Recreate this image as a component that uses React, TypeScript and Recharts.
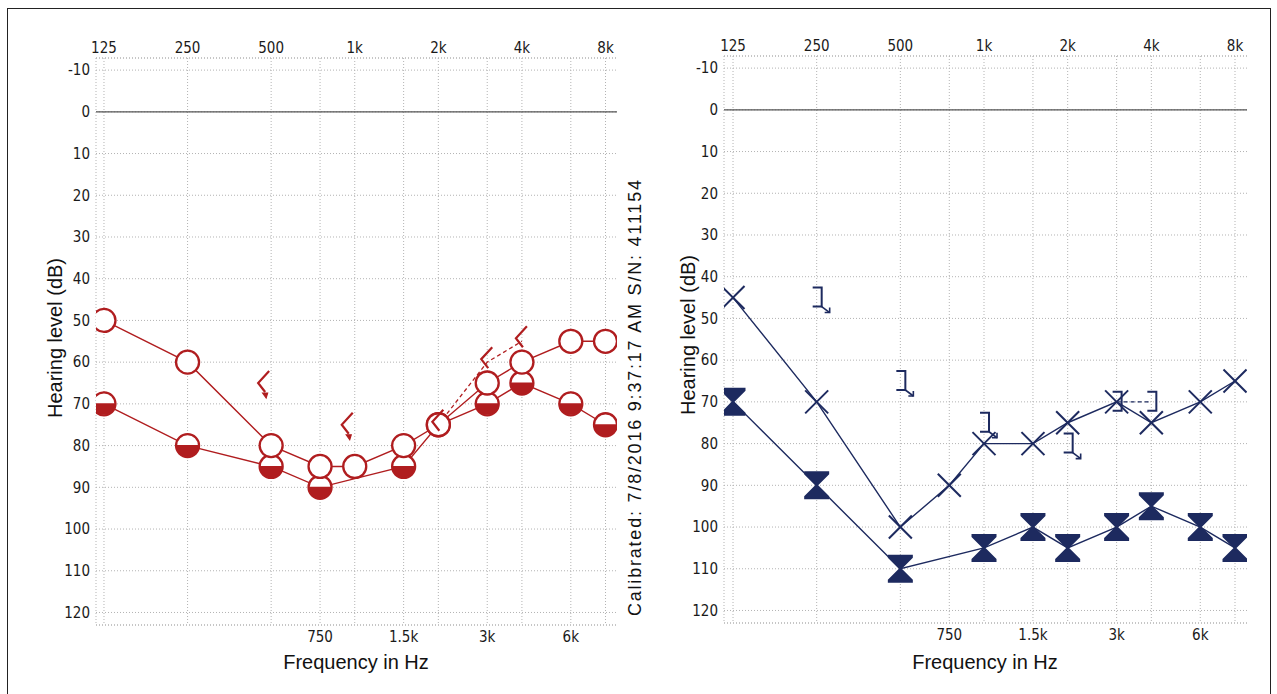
import React from 'react';
import { LineChart, Line, XAxis, YAxis, CartesianGrid, ReferenceLine } from 'recharts';

const RED = '#b01d1f';
const NAVY = '#1d2a5f';
const GRID = '#b3b3b3';

const TOP_FREQS = [125, 250, 500, 1000, 2000, 4000, 8000];
const BOTTOM_FREQS = [750, 1500, 3000, 6000];
const DB_TICKS = [-10, 0, 10, 20, 30, 40, 50, 60, 70, 80, 90, 100, 110, 120];

const AC_FREQS = [125, 250, 500, 750, 1000, 1500, 2000, 3000, 4000, 6000, 8000];

// Right ear (red)
const RIGHT_AC = [50, 60, 80, 85, 85, 80, 75, 65, 60, 55, 55];
const RIGHT_AC_MASKED = [70, 80, 85, 90, null, 85, 75, 70, 65, 70, 75];
const RIGHT_BC_FREQS = [500, 1000, 2000, 3000, 4000];
const RIGHT_BC = [65, 75, 75, 60, 55];
const RIGHT_BC_NR = [true, true, false, false, false];

// Left ear (blue)
const LEFT_AC = [45, 70, 100, 90, 80, 80, 75, 70, 75, 70, 65];
const LEFT_AC_MASKED = [70, 90, 110, null, 105, 100, 105, 100, 95, 100, 105];
const LEFT_BC_FREQS = [250, 500, 1000, 2000, 3000, 4000];
const LEFT_BC = [45, 65, 75, 80, 70, 70];
const LEFT_BC_NR = [true, true, true, true, false, false];

const GRID_FREQS = [...TOP_FREQS, ...BOTTOM_FREQS];

const toRows = (freqs: number[], vals: (number | null)[]) =>
  freqs.map((f, i) => ({ f, v: vals[i] }));
const toBcRows = (freqs: number[], vals: number[], nr: boolean[]) =>
  freqs.map((f, i) => ({ f, v: vals[i], nr: nr[i] }));
const toBcLine = (freqs: number[], vals: number[], nr: boolean[]) =>
  freqs.map((f, i) => ({ f, v: nr[i] ? null : vals[i] }));

const fmt = (f: number) => (f >= 1000 ? `${f / 1000}k` : `${f}`);

const TICK_FONT = "'Liberation Sans Narrow', 'DejaVu Sans Condensed', 'Liberation Sans', sans-serif";
const TITLE_FONT = "'Liberation Sans', Arial, sans-serif";

const empty = (p: any) => <g key={`e${p.index}`} />;

const OpenCircle = (p: any) => {
  if (p.cy == null || p.cx == null) return empty(p);
  return <circle key={`oc${p.index}`} cx={p.cx} cy={p.cy} r={11.5} fill="#fff" stroke={RED} strokeWidth={2.3} />;
};

const HalfCircle = (p: any) => {
  if (p.cy == null || p.cx == null) return empty(p);
  const r = 11.5;
  const { cx, cy } = p;
  return (
    <g key={`hc${p.index}`}>
      <circle cx={cx} cy={cy} r={r} fill="#fff" />
      <path d={`M${cx - r},${cy - 0.5} A${r},${r} 0 0 0 ${cx + r},${cy - 0.5} Z`} fill={RED} />
      <circle cx={cx} cy={cy} r={r} fill="none" stroke={RED} strokeWidth={2.3} />
    </g>
  );
};

const BcRight = (p: any) => {
  if (p.cy == null || p.cx == null) return empty(p);
  const { cx, cy } = p;
  const nr = p.payload && p.payload.nr;
  const dx = nr ? -13 : -6;
  const vx = cx + dx;
  const vy = nr ? cy : cy - 3;
  const tx = vx + 11, ty = vy - 12;
  const bx = vx + 7, by = vy + 9;
  return (
    <g key={`bcr${p.index}`} stroke={RED} strokeWidth={2.2} fill="none">
      <path d={`M${tx},${ty} L${vx},${vy} L${bx},${by}`} />
      {nr ? <path d={`M${bx - 2.5},${by + 1} L${bx + 2.5},${by + 1} L${bx + 1},${by + 6} Z`} fill={RED} strokeWidth={1.2} /> : null}
    </g>
  );
};

const XMark = (p: any) => {
  if (p.cy == null || p.cx == null) return empty(p);
  const { cx, cy } = p;
  const s = 11.5;
  return (
    <g key={`x${p.index}`} stroke={NAVY} strokeWidth={2}>
      <line x1={cx - s} y1={cy - s} x2={cx + s} y2={cy + s} />
      <line x1={cx - s} y1={cy + s} x2={cx + s} y2={cy - s} />
    </g>
  );
};

const Hourglass = (p: any) => {
  if (p.cy == null || p.cx == null) return empty(p);
  const { cx, cy } = p;
  const w = 12.5, h = 14;
  const d = `M${cx - w},${cy - h} H${cx + w} V${cy - h + 3} L${cx + 1.5},${cy} L${cx + w},${cy + h - 3} V${cy + h} H${cx - w} V${cy + h - 3} L${cx - 1.5},${cy} L${cx - w},${cy - h + 3} Z`;
  return <path key={`hg${p.index}`} d={d} fill={NAVY} />;
};

const BcLeft = (p: any) => {
  if (p.cy == null || p.cx == null) return empty(p);
  const { cx, cy } = p;
  const nr = p.payload && p.payload.nr;
  const l = cx - 4, r = cx + 5, t = cy - 10, b = cy + 9;
  return (
    <g key={`bcl${p.index}`} stroke={NAVY} strokeWidth={2} fill="none">
      <path d={`M${l},${t} H${r} V${b} H${l}`} />
      {nr ? (
        <g>
          <path d={`M${r},${b} L${r + 8},${b + 6}`} strokeWidth={1.6} />
          <path d={`M${r + 8},${b + 1} V${b + 6} H${r + 3}`} strokeWidth={1.6} />
        </g>
      ) : null}
    </g>
  );
};

type ChartCfg = {
  width: number;
  margin: { top: number; right: number; bottom: number; left: number };
  xDomain: [number, number];
  children: React.ReactNode;
};

const Y_DOMAIN: [number, number] = [-12.9, 123];

function Audiogram({ width, margin, xDomain, children }: ChartCfg) {
  const tick = { fontSize: 15, fill: '#1a1a1a', fontFamily: TICK_FONT };
  return (
    <LineChart width={width} height={694} margin={margin}>
      <CartesianGrid vertical={false} yAxisId="y" xAxisId="top" stroke={GRID} strokeDasharray="1 2" />
      {GRID_FREQS.map((f) => (
        <ReferenceLine key={`g${f}`} x={f} xAxisId="top" yAxisId="y" stroke={GRID} strokeDasharray="1 2" ifOverflow="hidden" />
      ))}
      <ReferenceLine y={0} xAxisId="top" yAxisId="y" stroke="#555" strokeWidth={1.3} />
      <XAxis
        xAxisId="top"
        dataKey="f"
        type="number"
        scale="log"
        domain={xDomain}
        allowDataOverflow
        orientation="top"
        ticks={TOP_FREQS}
        interval={0}
        tickFormatter={fmt}
        tickLine={false}
        tickSize={0}
        tickMargin={5}
        height={20}
        axisLine={{ stroke: GRID, strokeDasharray: '1 2' }}
        tick={tick}
      />
      <XAxis
        xAxisId="bottom"
        dataKey="f"
        type="number"
        scale="log"
        domain={xDomain}
        allowDataOverflow
        orientation="bottom"
        ticks={BOTTOM_FREQS}
        interval={0}
        tickFormatter={fmt}
        tickLine={false}
        tickSize={0}
        tickMargin={6}
        height={20}
        axisLine={{ stroke: GRID, strokeDasharray: '1 2' }}
        tick={tick}
      />
      <YAxis
        yAxisId="y"
        type="number"
        domain={Y_DOMAIN}
        allowDataOverflow
        reversed
        ticks={DB_TICKS}
        interval={0}
        tickLine={false}
        tickSize={0}
        tickMargin={6}
        width={50}
        axisLine={{ stroke: GRID, strokeDasharray: '1 2' }}
        tick={tick}
      />
      <YAxis
        yAxisId="yr"
        orientation="right"
        type="number"
        domain={Y_DOMAIN}
        reversed
        tick={false}
        tickLine={false}
        width={0}
        axisLine={{ stroke: GRID, strokeDasharray: '1 2' }}
      />
      {children}
    </LineChart>
  );
}

const titleStyle: React.CSSProperties = {
  position: 'absolute',
  fontFamily: TITLE_FONT,
  fontSize: 20,
  color: '#111',
  whiteSpace: 'nowrap',
  lineHeight: '20px',
};

function Rotated({ x, y, text, size }: { x: number; y: number; text: string; size: number }) {
  return (
    <div
      style={{
        ...titleStyle,
        fontSize: size,
        left: x,
        top: y,
        transform: 'translate(-50%, -50%) rotate(-90deg)',
      }}
    >
      {text}
    </div>
  );
}

function Centered({ x, y, text }: { x: number; y: number; text: string }) {
  return (
    <div style={{ ...titleStyle, left: x, top: y, transform: 'translate(-50%, -50%)' }}>{text}</div>
  );
}

export default function App() {
  const rAc = toRows(AC_FREQS, RIGHT_AC);
  const rAcM = toRows(AC_FREQS, RIGHT_AC_MASKED);
  const rBc = toBcRows(RIGHT_BC_FREQS, RIGHT_BC, RIGHT_BC_NR);
  const rBcLine = toBcLine(RIGHT_BC_FREQS, RIGHT_BC, RIGHT_BC_NR);
  const lAc = toRows(AC_FREQS, LEFT_AC);
  const lAcM = toRows(AC_FREQS, LEFT_AC_MASKED);
  const lBc = toBcRows(LEFT_BC_FREQS, LEFT_BC, LEFT_BC_NR);
  const lBcLine = toBcLine(LEFT_BC_FREQS, LEFT_BC, LEFT_BC_NR);

  const common = { xAxisId: 'top', yAxisId: 'y', dataKey: 'v', isAnimationActive: false, type: 'linear' as const };

  return (
    <div style={{ position: 'absolute', left: 0, top: 0, width: 1277, height: 694, background: '#fff', overflow: 'hidden' }}>
      <div style={{ position: 'absolute', left: 7, top: 8, width: 1264, height: 700, border: '1.5px solid #222', boxSizing: 'border-box' }} />
      <div style={{ position: 'absolute', left: 0, top: 0 }}>
        <Audiogram width={640} margin={{ top: 38, right: 23, bottom: 49, left: 46 }} xDomain={[117, 8800]}>
          <Line {...common} data={rBcLine} stroke={RED} strokeWidth={1.3} strokeDasharray="4 3" dot={false} />
          <Line {...common} data={rAcM} stroke={RED} strokeWidth={1.4} connectNulls dot={HalfCircle} />
          <Line {...common} data={rAc} stroke={RED} strokeWidth={1.4} dot={OpenCircle} />
          <Line {...common} data={rBc} stroke="none" dot={BcRight} />
        </Audiogram>
      </div>
      <div style={{ position: 'absolute', left: 640, top: 0 }}>
        <Audiogram width={637} margin={{ top: 36, right: 30, bottom: 51, left: 34 }} xDomain={[116, 8836]}>
          <Line {...common} data={lBcLine} stroke={NAVY} strokeWidth={1.3} strokeDasharray="4 3" dot={false} />
          <Line {...common} data={lAcM} stroke={NAVY} strokeWidth={1.4} connectNulls dot={Hourglass} />
          <Line {...common} data={lAc} stroke={NAVY} strokeWidth={1.4} dot={XMark} />
          <Line {...common} data={lBc} stroke="none" dot={BcLeft} />
        </Audiogram>
      </div>
      <Rotated x={55} y={338} text="Hearing level (dB)" size={20} />
      <Rotated x={688} y={335} text="Hearing level (dB)" size={20} />
      <Centered x={356} y={662} text="Frequency in Hz" />
      <Centered x={985} y={662} text="Frequency in Hz" />
      <svg style={{ position: 'absolute', left: 620, top: 170, overflow: 'visible' }} width={30} height={460}>
        <text
          x={0}
          y={0}
          transform="translate(21, 446) rotate(-90)"
          fontFamily={TITLE_FONT}
          fontSize={18}
          fill="#111"
          textLength={436}
          lengthAdjust="spacing"
        >
          Calibrated: 7/8/2016 9:37:17 AM  S/N: 411154
        </text>
      </svg>
    </div>
  );
}
